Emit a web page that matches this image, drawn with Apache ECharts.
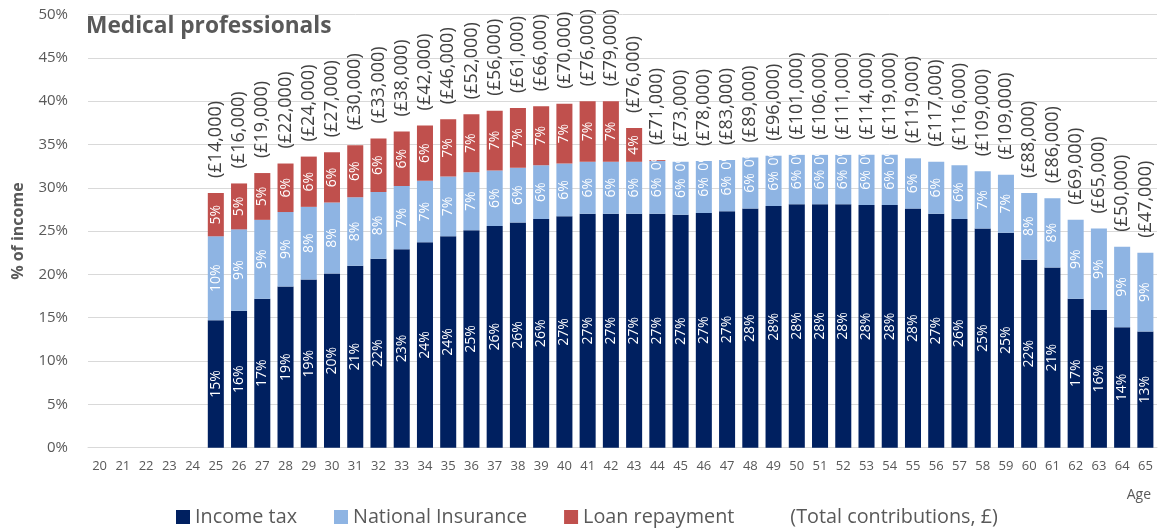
<!DOCTYPE html>
<html>
<head>
<meta charset="utf-8">
<title>Medical professionals</title>
<script src="https://cdn.jsdelivr.net/npm/echarts@6/dist/echarts.min.js"></script>
<style>
  html, body { margin: 0; padding: 0; background: #ffffff; }
  #chart { width: 1158px; height: 529px; }
</style>
</head>
<body>
<div id="chart"></div>
<script>
// Ages on the horizontal axis
const ages = ['20','21','22','23','24','25','26','27','28','29','30','31','32','33','34','35','36','37','38','39','40',
  '41','42','43','44','45','46','47','48','49','50','51','52','53','54','55','56','57','58','59','60',
  '61','62','63','64','65'];

// Share of income (%) by age; null where nothing is paid
const incomeTax = [null, null, null, null, null,
  14.7, 15.8, 17.2, 18.6, 19.4, 20.1, 21.0, 21.8, 22.9, 23.7, 24.4, 25.1, 25.6, 26.0, 26.4, 26.7,
  27.0, 27.0, 27.0, 27.0, 26.9, 27.1, 27.3, 27.6, 27.9, 28.1, 28.1, 28.1, 28.0, 28.0, 27.6, 27.0,
  26.4, 25.3, 24.8, 21.7, 20.8, 17.2, 15.9, 13.9, 13.4];

const nationalInsurance = [null, null, null, null, null,
  9.7, 9.4, 9.1, 8.6, 8.4, 8.2, 7.9, 7.7, 7.3, 7.1, 6.9, 6.7, 6.4, 6.3, 6.2, 6.1,
  6.0, 6.0, 6.0, 6.1, 6.1, 6.0, 5.9, 5.9, 5.8, 5.7, 5.7, 5.7, 5.8, 5.8, 5.8, 6.0,
  6.2, 6.6, 6.7, 7.7, 8.0, 9.1, 9.4, 9.3, 9.1];

const loanRepayment = [null, null, null, null, null,
  5.0, 5.3, 5.4, 5.6, 5.8, 5.8, 6.0, 6.2, 6.3, 6.4, 6.6, 6.7, 6.9, 6.9, 6.8, 6.9,
  7.0, 7.0, 3.9, 0.1, 0, 0, 0, 0, 0, 0, 0, 0, 0, 0, null, null,
  null, null, null, null, null, null, null, null, null];

// Total contributions in the year, £
const totalContributions = [null, null, null, null, null,
  14000, 16000, 19000, 22000, 24000, 27000, 30000, 33000, 38000, 42000, 46000, 52000, 56000, 61000, 66000, 70000,
  76000, 79000, 76000, 71000, 73000, 78000, 83000, 89000, 96000, 101000, 106000, 111000, 114000, 119000, 119000, 117000,
  116000, 109000, 109000, 88000, 86000, 69000, 65000, 50000, 47000];

const yTicks = { min: 0, max: 50, interval: 5 };

const FONT = "'Open Sans', 'Noto Sans', sans-serif";
const GREY = '#595959';

const pctLabel = {
  show: true,
  position: 'inside',
  rotate: 90,
  color: '#ffffff',
  fontFamily: FONT,
  fontSize: 14,
  formatter: p => (p.value == null ? '' : Math.round(p.value) + '%')
};

const chart = echarts.init(document.getElementById('chart'), null, { renderer: 'canvas' });

chart.setOption({
  animation: false,
  backgroundColor: '#ffffff',
  textStyle: { fontFamily: FONT },
  title: {
    text: 'Medical professionals',
    left: 81,
    top: 10,
    textStyle: { fontFamily: FONT, fontSize: 22.7, fontWeight: 'bold', color: GREY }
  },
  grid: { left: 88, right: 1, top: 14.5, bottom: 81.3, containLabel: false },
  legend: {
    left: 171,
    top: 502,
    itemWidth: 14,
    itemHeight: 14,
    itemGap: 37,
    icon: 'rect',
    textStyle: { fontFamily: FONT, fontSize: 19.8, color: GREY },
    data: ['Income tax', 'National Insurance', 'Loan repayment', '(Total contributions, £)']
  },
  xAxis: {
    type: 'category',
    data: ages,
    name: 'Age',
    nameLocation: 'end',
    nameGap: 0,
    nameTextStyle: { fontFamily: FONT, fontSize: 14, color: GREY, align: 'right', verticalAlign: 'top', padding: [40, 6, 0, 0] },
    axisLine: { show: true, lineStyle: { color: '#d9d9d9', width: 1 } },
    axisTick: { show: false },
    axisLabel: { fontFamily: FONT, fontSize: 13, color: GREY, margin: 12, interval: 0 }
  },
  yAxis: {
    type: 'value',
    min: yTicks.min,
    max: yTicks.max,
    interval: yTicks.interval,
    name: '% of income',
    nameLocation: 'middle',
    nameGap: 62,
    nameTextStyle: { fontFamily: FONT, fontSize: 16, fontWeight: 'bold', color: GREY },
    axisLine: { show: false },
    axisTick: { show: false },
    axisLabel: { fontFamily: FONT, fontSize: 15, color: GREY, margin: 20, formatter: '{value}%' },
    splitLine: { lineStyle: { color: '#d9d9d9', width: 1 } }
  },
  series: [
    {
      name: 'Income tax',
      type: 'bar',
      stack: 'share',
      barCategoryGap: '31%',
      data: incomeTax,
      itemStyle: { color: '#002060' },
      label: pctLabel
    },
    {
      name: 'National Insurance',
      type: 'bar',
      stack: 'share',
      data: nationalInsurance,
      itemStyle: { color: '#8eb4e3' },
      label: pctLabel
    },
    {
      name: 'Loan repayment',
      type: 'bar',
      stack: 'share',
      data: loanRepayment,
      itemStyle: { color: '#c0504d' },
      label: pctLabel
    },
    {
      // zero-height cap on each stack that carries the £ total above the bar
      name: '(Total contributions, £)',
      type: 'bar',
      stack: 'share',
      data: totalContributions.map(v => (v == null ? null : 0)),
      itemStyle: { color: 'rgba(0,0,0,0)' },
      label: {
        show: true,
        position: 'top',
        distance: 15,
        rotate: 90,
        align: 'left',
        verticalAlign: 'middle',
        color: '#404040',
        fontFamily: FONT,
        fontSize: 18,
        formatter: p => {
          const v = totalContributions[p.dataIndex];
          return v == null ? '' : '(£' + v.toLocaleString('en-GB') + ')';
        }
      }
    }
  ]
});
</script>
</body>
</html>
